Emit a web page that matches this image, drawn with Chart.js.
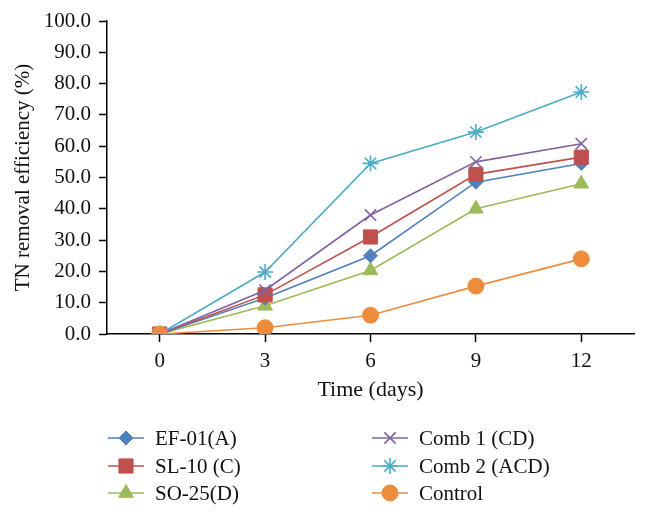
<!DOCTYPE html>
<html>
<head>
<meta charset="utf-8">
<script src="https://cdn.jsdelivr.net/npm/chart.js@4"></script>
<style>
  html, body { margin: 0; padding: 0; background: #fff; }
  #wrap { width: 648px; height: 517px; }
</style>
</head>
<body>
<div id="wrap"><canvas id="myChart"></canvas></div>
<script>
const days = ["0", "3", "6", "9", "12"];
const yTicks = [0, 10, 20, 30, 40, 50, 60, 70, 80, 90, 100];

const ef01 = [0, 11.5, 25.0, 48.5, 54.5];
const sl10 = [0, 12.5, 31.0, 51.0, 56.5];
const so25 = [0, 9.0, 20.3, 40.0, 48.0];
const comb1 = [0, 14.0, 38.0, 55.0, 60.8];
const comb2 = [0, 19.8, 54.5, 64.5, 77.3];
const control = [0, 2.0, 6.0, 15.3, 24.0];

const seriesNames = ["EF-01(A)", "SL-10 (C)", "SO-25(D)", "Comb 1 (CD)", "Comb 2 (ACD)", "Control"];

const FONT = "'Liberation Serif', 'DejaVu Serif', serif";
Chart.defaults.font.family = FONT;
Chart.defaults.font.size = 21;
Chart.defaults.color = "#111";

function series(label, data, color, style, radius, order) {
  return {
    label: label,
    data: data,
    borderColor: color,
    backgroundColor: color,
    borderWidth: 1.6,
    pointStyle: style,
    pointRadius: radius,
    pointHoverRadius: radius,
    pointBorderColor: color,
    pointBackgroundColor: color,
    pointBorderWidth: (style === "crossRot" || style === "star") ? 1.6 : 1,
    tension: 0,
    order: order,
  };
}

const datasets = [
  series(seriesNames[0], ef01, "#4F81BD", "rectRot", 7, 4),
  series(seriesNames[1], sl10, "#C0504D", "rect", 10, 3),
  series(seriesNames[2], so25, "#9BBB59", "triangle", 8.5, 5),
  series(seriesNames[3], comb1, "#8064A2", "crossRot", 8, 2),
  series(seriesNames[4], comb2, "#4BACC6", "star", 8, 1),
  series(seriesNames[5], control, "#EE8C3E", "circle", 8, 0),
];

// two-column legend drawn on the canvas below the axis title
const columnLegend = {
  id: "columnLegend",
  afterDraw(chart) {
    const ctx = chart.ctx;
    const colX = [108, 372];
    const rowY = [438, 466, 493];
    ctx.save();
    chart.data.datasets.forEach((ds, i) => {
      const col = Math.floor(i / 3);
      const row = i % 3;
      const x0 = colX[col];
      const y = rowY[row];
      ctx.strokeStyle = ds.borderColor;
      ctx.lineWidth = 1.6;
      ctx.beginPath();
      ctx.moveTo(x0, y);
      ctx.lineTo(x0 + 36, y);
      ctx.stroke();
      ctx.fillStyle = ds.pointBackgroundColor;
      ctx.strokeStyle = ds.pointBorderColor;
      ctx.lineWidth = ds.pointBorderWidth;
      Chart.helpers.drawPoint(ctx, {
        pointStyle: ds.pointStyle,
        radius: ds.pointRadius,
        rotation: 0,
        borderWidth: ds.pointBorderWidth,
      }, x0 + 18, y);
      ctx.fillStyle = "#111";
      ctx.font = "21px " + FONT;
      ctx.textBaseline = "middle";
      ctx.textAlign = "left";
      ctx.fillText(ds.label, x0 + 47, y + 1);
    });
    ctx.restore();
  },
};

const ctx = document.querySelector("#myChart");

const myChart = new Chart(ctx, {
  type: "line",
  data: {
    labels: days,
    datasets: datasets,
  },
  options: {
    responsive: true,
    maintainAspectRatio: false,
    animation: false,
    layout: {
      padding: { left: 7, right: 14, top: 21, bottom: 112 },
    },
    scales: {
      x: {
        offset: true,
        afterFit: (s) => { s.height = 71; },
        grid: {
          drawOnChartArea: false,
          drawTicks: true,
          tickLength: 8,
          tickWidth: 1.5,
          tickColor: "#000",
          offset: false,
        },
        border: { color: "#000", width: 1.5 },
        ticks: { padding: 7, color: "#111" },
        title: {
          display: true,
          text: "Time (days)",
          color: "#111",
          font: { size: 22 },
          padding: { top: 2, bottom: 2 },
        },
      },
      y: {
        min: 0,
        max: 100,
        afterFit: (s) => { s.width = 100; },
        afterBuildTicks: (s) => { s.ticks = yTicks.map((v) => ({ value: v })); },
        grid: {
          drawOnChartArea: false,
          drawTicks: true,
          tickLength: 8,
          tickWidth: 1.5,
          tickColor: "#000",
        },
        border: { color: "#000", width: 1.5 },
        ticks: {
          padding: 8,
          color: "#111",
          callback: function (value) {
            return Number(value).toFixed(1);
          },
        },
        title: {
          display: true,
          text: "TN removal efficiency (%)",
          color: "#111",
          padding: { top: 4, bottom: 0 },
        },
      },
    },
    plugins: {
      legend: { display: false },
      tooltip: { enabled: false },
    },
  },
  plugins: [columnLegend],
});
</script>
</body>
</html>
